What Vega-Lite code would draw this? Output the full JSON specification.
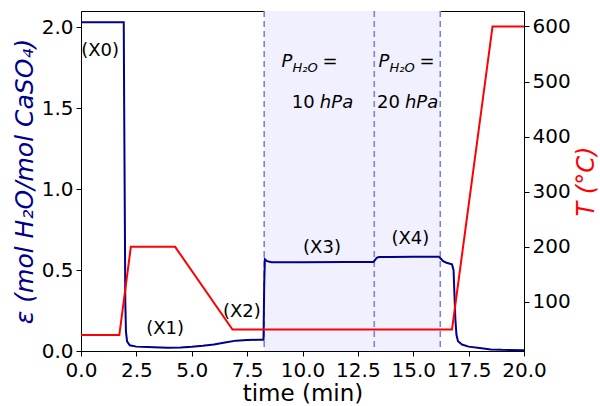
{
  "$schema": "https://vega.github.io/schema/vega-lite/v6.json",
  "autosize": "none",
  "width": 443,
  "height": 340,
  "padding": {"left": 81, "top": 11, "right": 76, "bottom": 55},
  "background": "white",
  "config": {
    "font": "DejaVu Sans",
    "view": {"stroke": "#000000", "strokeWidth": 1},
    "axis": {
      "grid": false,
      "labelFontSize": 20,
      "labelColor": "#000000",
      "labelFont": "DejaVu Sans",
      "labelOverlap": false,
      "labelFlush": false,
      "titleFont": "DejaVu Sans",
      "titleFontSize": 24,
      "titleFontWeight": "normal",
      "tickColor": "#000000",
      "tickSize": 5,
      "domainColor": "#000000",
      "labelPadding": 3
    },
    "axisX": {"labelPadding": 4, "titlePadding": 2, "titleFontSize": 23},
    "text": {"font": "DejaVu Sans", "color": "#000000"}
  },
  "datasets": {
    "blue": [
      {"t": 0, "e": 2.03}, {"t": 1.93, "e": 2.03}, {"t": 1.95, "e": 1.5}, {"t": 1.98, "e": 0.8},
      {"t": 2.0, "e": 0.3}, {"t": 2.03, "e": 0.12}, {"t": 2.08, "e": 0.06}, {"t": 2.2, "e": 0.035},
      {"t": 2.5, "e": 0.027}, {"t": 3.0, "e": 0.024}, {"t": 3.9, "e": 0.02}, {"t": 4.5, "e": 0.022},
      {"t": 5.0, "e": 0.026}, {"t": 5.5, "e": 0.032}, {"t": 6.0, "e": 0.04}, {"t": 6.5, "e": 0.052},
      {"t": 7.0, "e": 0.064}, {"t": 7.5, "e": 0.068}, {"t": 8.0, "e": 0.069}, {"t": 8.24, "e": 0.07},
      {"t": 8.27, "e": 0.4}, {"t": 8.3, "e": 0.567}, {"t": 8.4, "e": 0.555}, {"t": 8.6, "e": 0.548},
      {"t": 10, "e": 0.548}, {"t": 12, "e": 0.549}, {"t": 13.2, "e": 0.549}, {"t": 13.26, "e": 0.56},
      {"t": 13.35, "e": 0.575}, {"t": 13.45, "e": 0.58}, {"t": 14, "e": 0.581}, {"t": 15, "e": 0.582},
      {"t": 16.15, "e": 0.582}, {"t": 16.25, "e": 0.57}, {"t": 16.35, "e": 0.555}, {"t": 16.5, "e": 0.545},
      {"t": 16.75, "e": 0.535}, {"t": 16.82, "e": 0.5}, {"t": 16.86, "e": 0.35}, {"t": 16.9, "e": 0.2},
      {"t": 16.95, "e": 0.1}, {"t": 17.02, "e": 0.06}, {"t": 17.2, "e": 0.04}, {"t": 17.5, "e": 0.027},
      {"t": 18.0, "e": 0.018}, {"t": 18.5, "e": 0.01}, {"t": 19, "e": 0.007}, {"t": 20, "e": 0.005}
    ],
    "red": [
      {"t": 0, "T": 40}, {"t": 1.73, "T": 40}, {"t": 2.25, "T": 200}, {"t": 4.25, "T": 200},
      {"t": 6.84, "T": 50}, {"t": 16.75, "T": 50}, {"t": 18.58, "T": 600}, {"t": 20, "T": 600}
    ],
    "shade": [{"t": 8.27, "t2": 16.22}],
    "vlines": [{"t": 8.27}, {"t": 13.24}, {"t": 16.22}],
    "labels": [
      {"t": 0.86, "e": 1.85, "label": "(X0)"},
      {"t": 3.8, "e": 0.136, "label": "(X1)"},
      {"t": 7.26, "e": 0.238, "label": "(X2)"},
      {"t": 10.88, "e": 0.639, "label": "(X3)"},
      {"t": 14.87, "e": 0.691, "label": "(X4)"}
    ],
    "pgroup": [{"t": 9.05, "e": 1.755}, {"t": 13.43, "e": 1.755}],
    "hpa": [{"t": 9.52, "e": 1.5, "n": "10"}, {"t": 13.36, "e": 1.5, "n": "20"}]
  },
  "layer": [
    {
      "layer": [
        {
          "data": {"name": "shade"},
          "mark": {"type": "rect", "color": "#f0f0fe"},
          "encoding": {
            "x": {"field": "t", "type": "quantitative", "scale": {"domain": [0, 20]}, "axis": {"values": [0, 2.5, 5, 7.5, 10, 12.5, 15, 17.5, 20], "format": ".1f", "title": "time (min)"}},
            "x2": {"field": "t2"}
          }
        },
        {
          "data": {"name": "vlines"},
          "mark": {"type": "rule", "color": "#8080d4", "strokeWidth": 1.6, "strokeDash": [6, 4]},
          "encoding": {
            "x": {"field": "t", "type": "quantitative", "scale": {"domain": [0, 20]}, "axis": {"values": [0, 2.5, 5, 7.5, 10, 12.5, 15, 17.5, 20], "format": ".1f", "title": "time (min)"}}
          }
        },
        {
          "data": {"name": "blue"},
          "mark": {"type": "line", "color": "#00008b", "strokeWidth": 2},
          "encoding": {
            "x": {"field": "t", "type": "quantitative", "scale": {"domain": [0, 20]}, "axis": {"values": [0, 2.5, 5, 7.5, 10, 12.5, 15, 17.5, 20], "format": ".1f", "title": "time (min)"}},
            "y": {"field": "e", "type": "quantitative", "scale": {"domain": [0, 2.1]}, "axis": {"values": [0, 0.5, 1, 1.5, 2], "format": ".1f", "title": "ε (mol H₂O/mol CaSO₄)", "titleColor": "#00008b", "titleFontStyle": "italic", "titleFontSize": 25}}
          }
        },
        {
          "data": {"name": "labels"},
          "mark": {"type": "text", "fontSize": 18, "align": "center", "baseline": "middle"},
          "encoding": {
            "x": {"field": "t", "type": "quantitative", "scale": {"domain": [0, 20]}, "axis": {"values": [0, 2.5, 5, 7.5, 10, 12.5, 15, 17.5, 20], "format": ".1f", "title": "time (min)"}},
            "y": {"field": "e", "type": "quantitative", "scale": {"domain": [0, 2.1]}, "axis": {"values": [0, 0.5, 1, 1.5, 2], "format": ".1f", "title": "ε (mol H₂O/mol CaSO₄)", "titleColor": "#00008b", "titleFontStyle": "italic", "titleFontSize": 25}},
            "text": {"field": "label"}
          }
        },
        {
          "data": {"name": "pgroup"},
          "mark": {"type": "text", "text": "P", "fontSize": 18, "fontStyle": "italic", "align": "left", "baseline": "alphabetic"},
          "encoding": {
            "x": {"field": "t", "type": "quantitative", "scale": {"domain": [0, 20]}, "axis": {"values": [0, 2.5, 5, 7.5, 10, 12.5, 15, 17.5, 20], "format": ".1f", "title": "time (min)"}},
            "y": {"field": "e", "type": "quantitative", "scale": {"domain": [0, 2.1]}, "axis": {"values": [0, 0.5, 1, 1.5, 2], "format": ".1f", "title": "ε (mol H₂O/mol CaSO₄)", "titleColor": "#00008b", "titleFontStyle": "italic", "titleFontSize": 25}}
          }
        },
        {
          "data": {"name": "pgroup"},
          "mark": {"type": "text", "text": "H₂O", "fontSize": 13, "fontStyle": "italic", "align": "left", "baseline": "alphabetic", "dx": 11, "dy": 5},
          "encoding": {
            "x": {"field": "t", "type": "quantitative", "scale": {"domain": [0, 20]}, "axis": {"values": [0, 2.5, 5, 7.5, 10, 12.5, 15, 17.5, 20], "format": ".1f", "title": "time (min)"}},
            "y": {"field": "e", "type": "quantitative", "scale": {"domain": [0, 2.1]}, "axis": {"values": [0, 0.5, 1, 1.5, 2], "format": ".1f", "title": "ε (mol H₂O/mol CaSO₄)", "titleColor": "#00008b", "titleFontStyle": "italic", "titleFontSize": 25}}
          }
        },
        {
          "data": {"name": "pgroup"},
          "mark": {"type": "text", "text": "=", "fontSize": 18, "align": "left", "baseline": "alphabetic", "dx": 41},
          "encoding": {
            "x": {"field": "t", "type": "quantitative", "scale": {"domain": [0, 20]}, "axis": {"values": [0, 2.5, 5, 7.5, 10, 12.5, 15, 17.5, 20], "format": ".1f", "title": "time (min)"}},
            "y": {"field": "e", "type": "quantitative", "scale": {"domain": [0, 2.1]}, "axis": {"values": [0, 0.5, 1, 1.5, 2], "format": ".1f", "title": "ε (mol H₂O/mol CaSO₄)", "titleColor": "#00008b", "titleFontStyle": "italic", "titleFontSize": 25}}
          }
        },
        {
          "data": {"name": "hpa"},
          "mark": {"type": "text", "fontSize": 18, "align": "left", "baseline": "alphabetic"},
          "encoding": {
            "x": {"field": "t", "type": "quantitative", "scale": {"domain": [0, 20]}, "axis": {"values": [0, 2.5, 5, 7.5, 10, 12.5, 15, 17.5, 20], "format": ".1f", "title": "time (min)"}},
            "y": {"field": "e", "type": "quantitative", "scale": {"domain": [0, 2.1]}, "axis": {"values": [0, 0.5, 1, 1.5, 2], "format": ".1f", "title": "ε (mol H₂O/mol CaSO₄)", "titleColor": "#00008b", "titleFontStyle": "italic", "titleFontSize": 25}},
            "text": {"field": "n"}
          }
        },
        {
          "data": {"name": "hpa"},
          "mark": {"type": "text", "text": "hPa", "fontSize": 18, "fontStyle": "italic", "align": "left", "baseline": "alphabetic", "dx": 28},
          "encoding": {
            "x": {"field": "t", "type": "quantitative", "scale": {"domain": [0, 20]}, "axis": {"values": [0, 2.5, 5, 7.5, 10, 12.5, 15, 17.5, 20], "format": ".1f", "title": "time (min)"}},
            "y": {"field": "e", "type": "quantitative", "scale": {"domain": [0, 2.1]}, "axis": {"values": [0, 0.5, 1, 1.5, 2], "format": ".1f", "title": "ε (mol H₂O/mol CaSO₄)", "titleColor": "#00008b", "titleFontStyle": "italic", "titleFontSize": 25}}
          }
        }
      ]
    },
    {
      "data": {"name": "red"},
      "mark": {"type": "line", "color": "#ff0000", "strokeWidth": 2},
      "encoding": {
        "x": {"field": "t", "type": "quantitative", "scale": {"domain": [0, 20]}, "axis": {"values": [0, 2.5, 5, 7.5, 10, 12.5, 15, 17.5, 20], "format": ".1f", "title": "time (min)"}},
        "y": {"field": "T", "type": "quantitative", "scale": {"domain": [11, 628]}, "axis": {"orient": "right", "values": [100, 200, 300, 400, 500, 600], "title": "T (°C)", "titleColor": "#ff0000", "titleFontStyle": "italic", "titleAngle": 270, "titleBaseline": "top", "titlePadding": 4}}
      }
    }
  ],
  "resolve": {"scale": {"y": "independent"}}
}
